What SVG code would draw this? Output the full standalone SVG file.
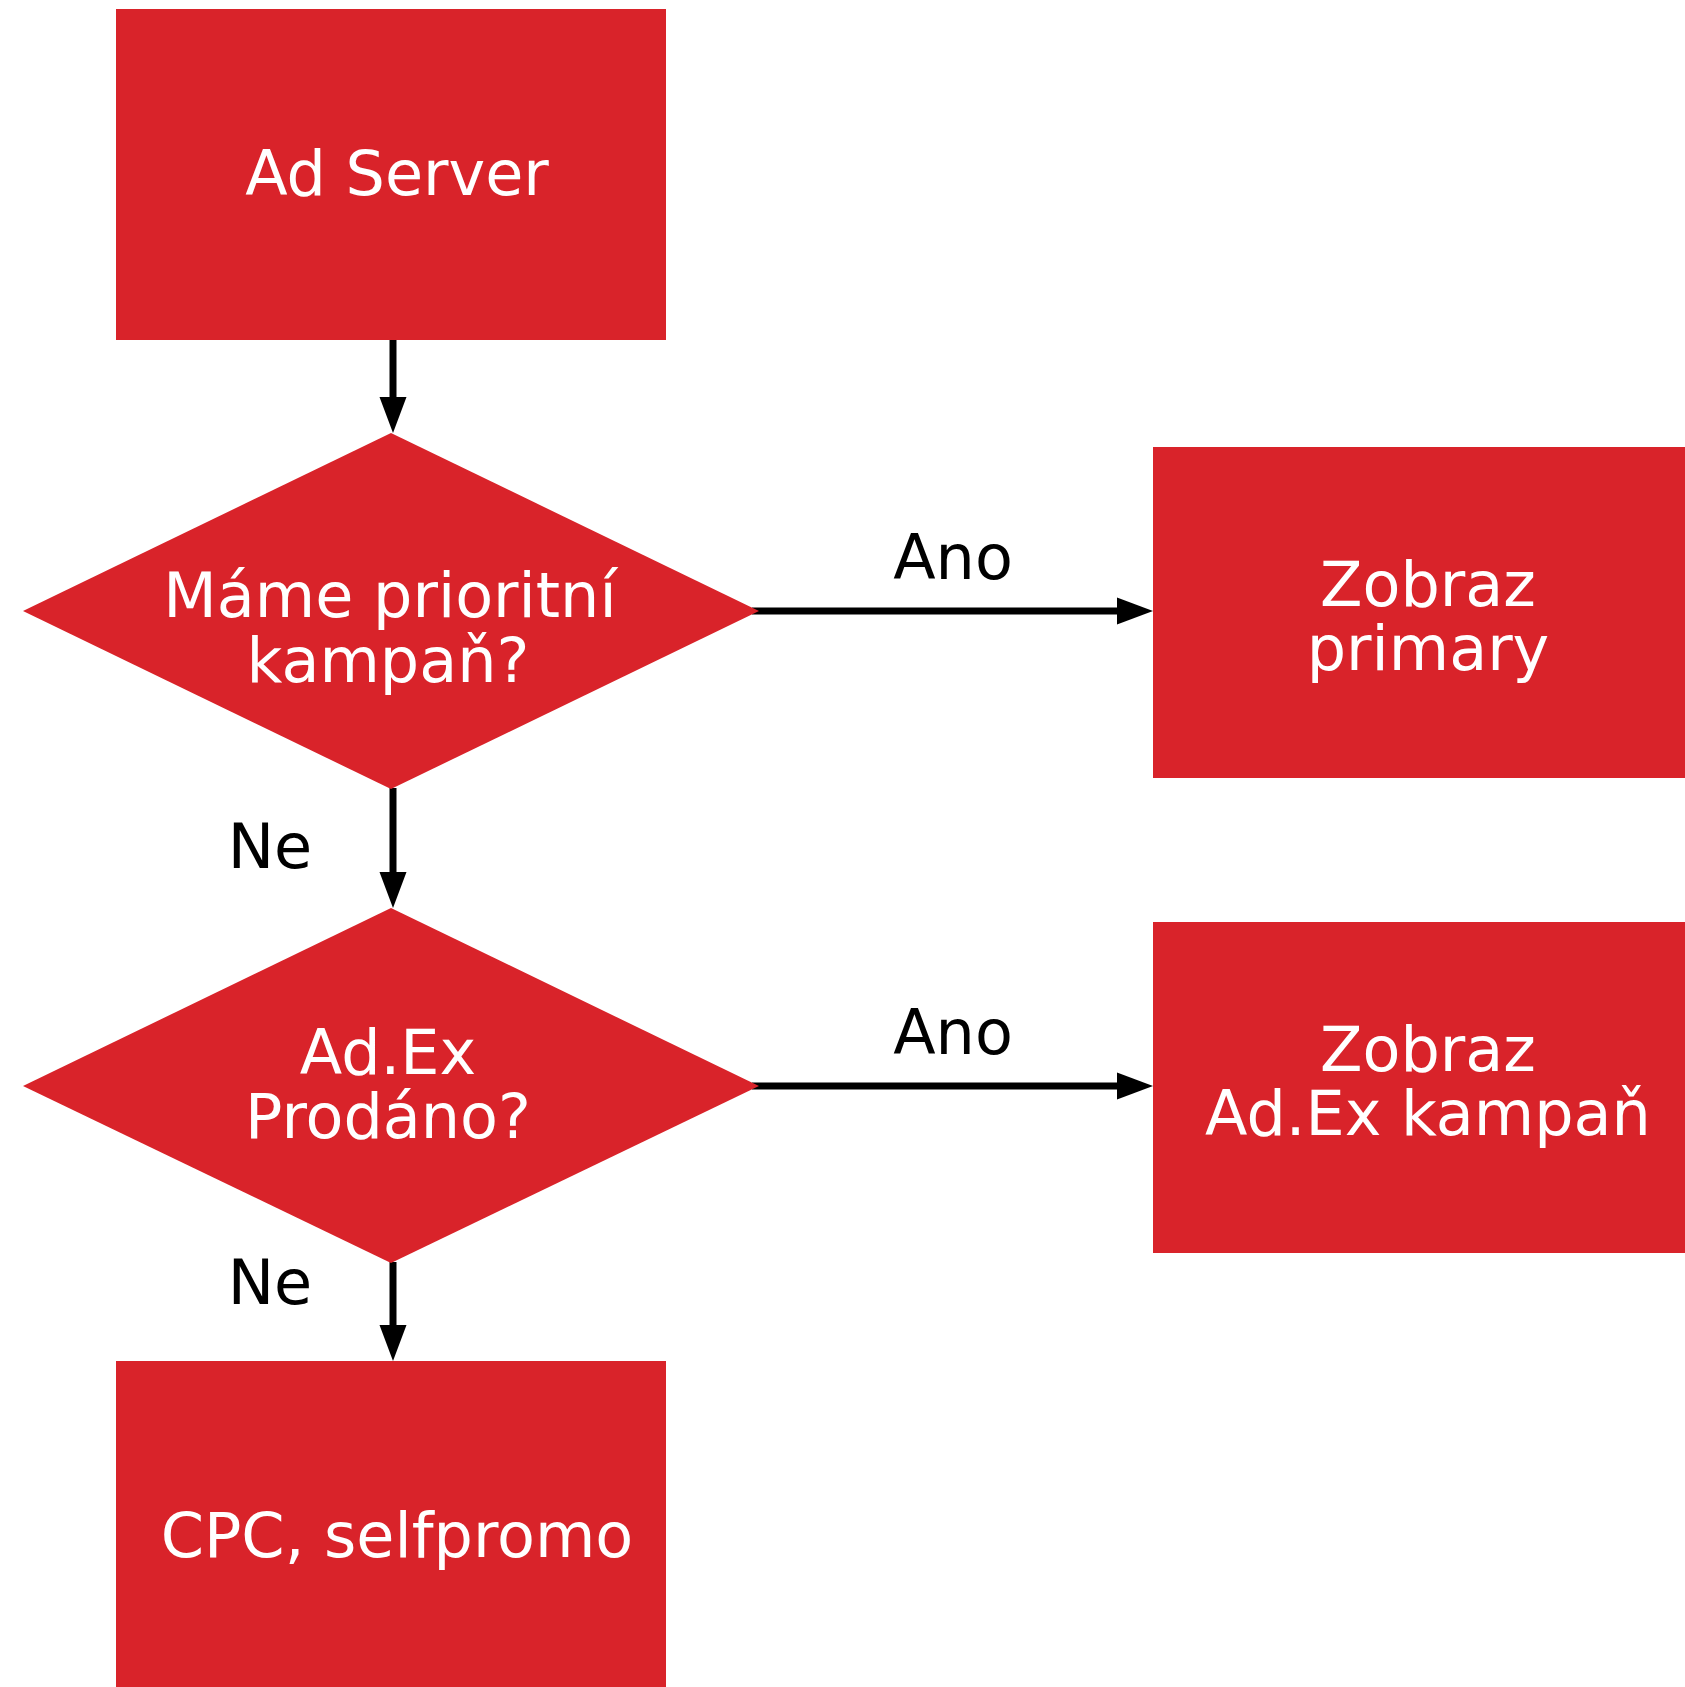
<svg xmlns="http://www.w3.org/2000/svg" width="1685" height="1687" viewBox="0 0 1685 1687">
<style>
.box{fill:#D9232A}
.wt{fill:#fff;font-family:"DejaVu Sans",sans-serif;font-size:62px;text-anchor:middle}
.bk{fill:#000;font-family:"DejaVu Sans",sans-serif;font-size:62px;text-anchor:middle}
.edge{stroke:#000;stroke-width:7;fill:none}
</style>
<defs>
<marker id="ah" markerUnits="userSpaceOnUse" markerWidth="37" markerHeight="28" refX="1" refY="13.5" orient="auto" overflow="visible">
<path d="M0,0 L36,13.5 L0,27 Z" fill="#000"/>
</marker>
</defs>
<rect width="1685" height="1687" fill="#fff"/>
<g id="connectors">
<line class="edge" x1="393" y1="340" x2="393" y2="398" marker-end="url(#ah)"/>
<line class="edge" x1="393" y1="788" x2="393" y2="873" marker-end="url(#ah)"/>
<line class="edge" x1="393" y1="1262" x2="393" y2="1326" marker-end="url(#ah)"/>
<line class="edge" x1="752" y1="611" x2="1118" y2="611" marker-end="url(#ah)"/>
<line class="edge" x1="752" y1="1086" x2="1118" y2="1086" marker-end="url(#ah)"/>
<text class="bk" x="953" y="579">Ano</text>
<text class="bk" x="953" y="1054">Ano</text>
<text class="bk" x="270" y="868">Ne</text>
<text class="bk" x="270" y="1304">Ne</text>
</g>
<g id="adserver">
<rect class="box" x="116" y="9" width="550" height="331"/>
<text class="wt" x="397" y="195">Ad Server</text>
</g>
<g id="decision1">
<polygon class="box" points="391,433 759,611 391,789 23,611"/>
<text class="wt" x="390" y="617">Máme prioritní</text>
<text class="wt" x="388" y="682">kampaň?</text>
</g>
<g id="primary">
<rect class="box" x="1153" y="447" width="532" height="331"/>
<text class="wt" x="1428" y="606">Zobraz</text>
<text class="wt" x="1428" y="670">primary</text>
</g>
<g id="decision2">
<polygon class="box" points="391,908 759,1086 391,1263 23,1086"/>
<text class="wt" x="388" y="1074">Ad.Ex</text>
<text class="wt" x="388" y="1138">Prodáno?</text>
</g>
<g id="adex">
<rect class="box" x="1153" y="922" width="532" height="331"/>
<text class="wt" x="1428" y="1071">Zobraz</text>
<text class="wt" x="1428" y="1135">Ad.Ex kampaň</text>
</g>
<g id="cpc">
<rect class="box" x="116" y="1361" width="550" height="326"/>
<text class="wt" x="397" y="1557">CPC, selfpromo</text>
</g>
</svg>
